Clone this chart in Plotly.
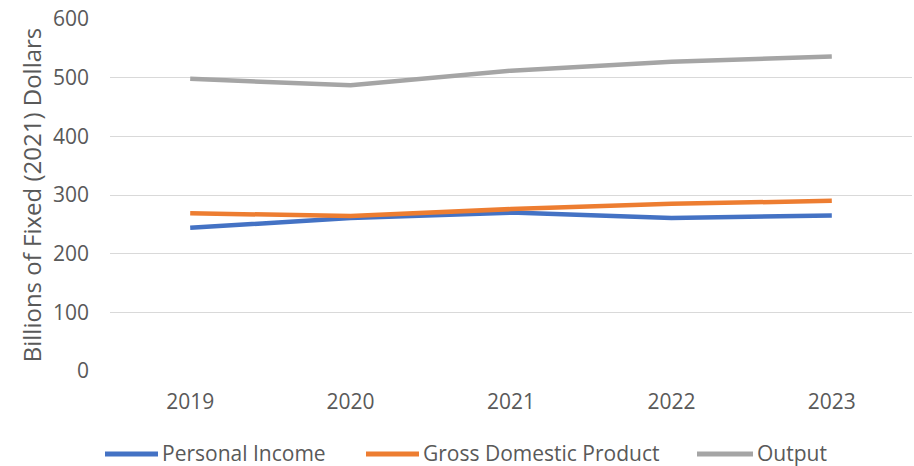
import plotly.graph_objects as go

years = ["2019", "2020", "2021", "2022", "2023"]
personal_income = [244, 261, 270, 261, 265]
gdp = [269, 264, 276, 285, 290]
output = [498, 487, 512, 527, 536]

series = [
    ("Personal Income", personal_income, "#4472C4"),
    ("Gross Domestic Product", gdp, "#ED7D31"),
    ("Output", output, "#A5A5A5"),
]

font_family = "'Open Sans', 'Noto Sans', sans-serif"
text_color = "#595959"

# plot-area geometry in pixels, used to place the legend row below it
W, H = 914, 466
L, R, T, B = 110, 2, 19, 95
plot_w, plot_h = W - L - R, H - T - B


def px_x(px):
    return (px - L) / plot_w


def px_y(py):
    return (H - B - py) / plot_h


fig = go.Figure()
for name, vals, color in series:
    fig.add_trace(go.Scatter(
        x=years, y=vals, name=name, mode="lines",
        line=dict(color=color, width=4.5), showlegend=False,
    ))

# legend row: swatch start / swatch end / label start (pixels)
legend_slots = [(105, 158, 163), (366, 419, 424), (697, 753, 758)]
legend_y = 454
for (name, _, color), (s0, s1, t0) in zip(series, legend_slots):
    fig.add_shape(type="line", xref="paper", yref="paper",
                  x0=px_x(s0), x1=px_x(s1), y0=px_y(legend_y), y1=px_y(legend_y),
                  line=dict(color=color, width=5))
    fig.add_annotation(xref="paper", yref="paper", x=px_x(t0), y=px_y(legend_y - 1),
                       text=name, showarrow=False, xanchor="left", yanchor="middle",
                       font=dict(size=21, color=text_color), xshift=-2,
                       borderpad=0)

fig.update_layout(
    width=W, height=H,
    margin=dict(l=L, r=R, t=T, b=B, autoexpand=False),
    paper_bgcolor="white", plot_bgcolor="white",
    font=dict(family=font_family, size=21, color=text_color),
    showlegend=False,
    xaxis=dict(
        type="category", showgrid=False, showline=False, zeroline=False,
        ticks="", tickfont=dict(size=21, color=text_color),
        range=[-0.5, 4.5], ticklabelstandoff=16, tickangle=0,
    ),
    yaxis=dict(
        range=[0, 600], dtick=100, showgrid=True, gridcolor="#D9D9D9",
        gridwidth=1, zeroline=False, showline=False, ticks="",
        tickfont=dict(size=21, color=text_color), ticklabelstandoff=20,
        title=dict(text="Billions of Fixed (2021) Dollars",
                   font=dict(size=24, color=text_color), standoff=4),
    ),
)

fig.write_html("out.html")
